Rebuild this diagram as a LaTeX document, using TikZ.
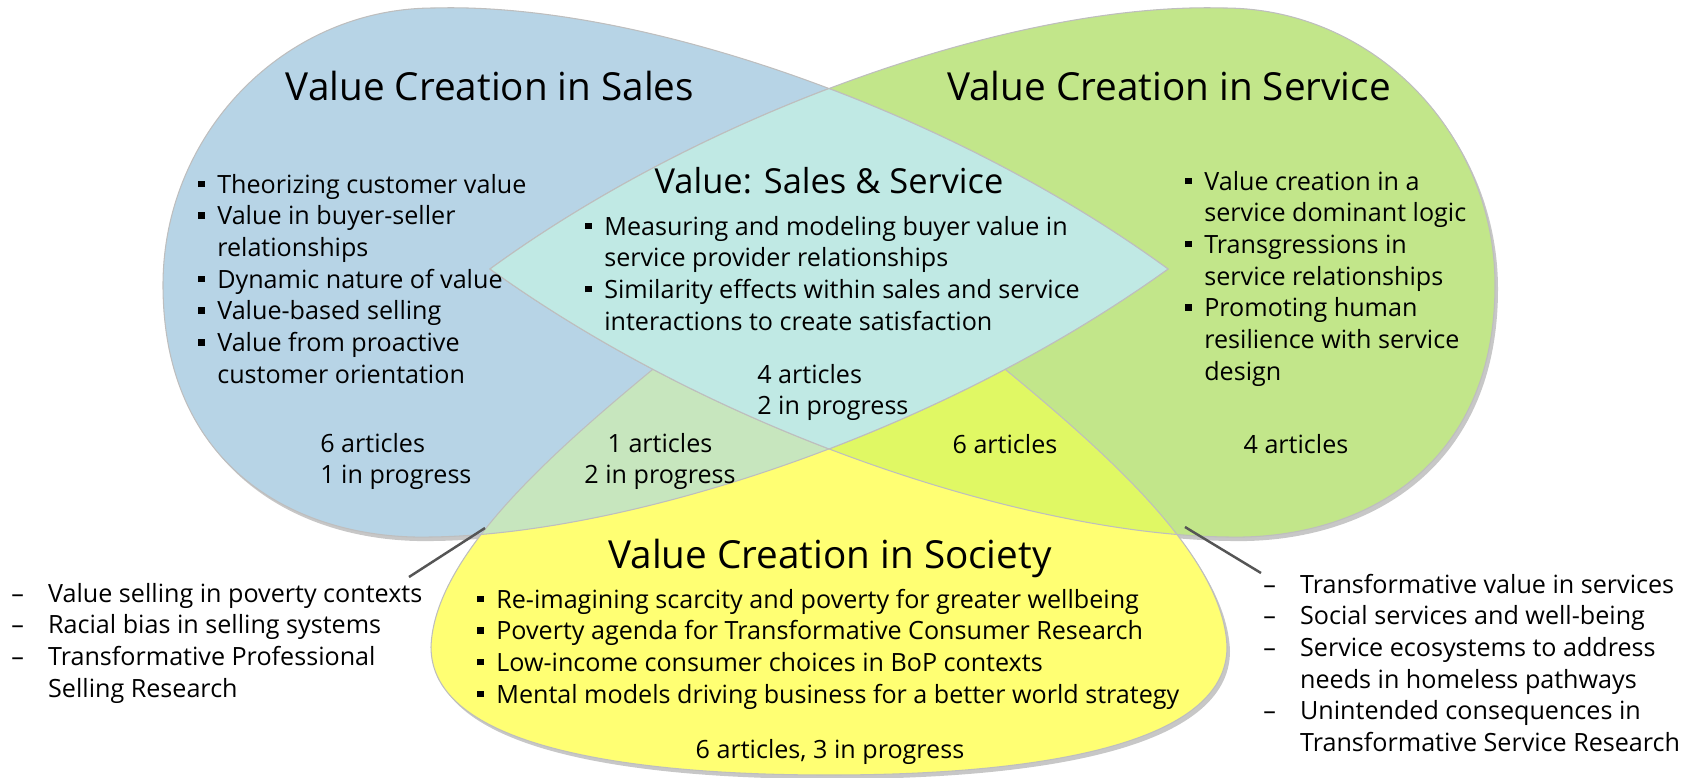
\documentclass[tikz,border=0pt]{standalone}
\usepackage{fontspec}
\setmainfont{Open Sans}
\definecolor{salesblue}{RGB}{183, 212, 230}
\definecolor{servicegreen}{RGB}{194, 230, 138}
\definecolor{societyyellow}{RGB}{255, 255, 115}
\definecolor{bothteal}{RGB}{192, 233, 228}
\definecolor{salessoc}{RGB}{199, 230, 190}
\definecolor{servsoc}{RGB}{224, 248, 100}
\definecolor{edgegray}{RGB}{190, 190, 190}
\definecolor{leadgray}{RGB}{85, 85, 85}
\usepackage{tikz}
\usetikzlibrary{positioning}

% petal outlines (pixel units, y downwards)
\newcommand{\salespetal}{(1168,269) .. controls (950,110) and (640,2) .. (434,8)
  .. controls (285,8) and (163,133) .. (163,285)
  .. controls (163,470) and (300,540) .. (430,537)
  .. controls (620,535) and (930,440) .. (1168,269) -- cycle}
\newcommand{\servicepetal}{(490,269) .. controls (708,110) and (1018,2) .. (1224,8)
  .. controls (1373,8) and (1495,133) .. (1495,285)
  .. controls (1495,470) and (1358,540) .. (1228,537)
  .. controls (1038,535) and (728,440) .. (490,269) -- cycle}
\newcommand{\societypetal}{(829,215) .. controls (740,320) and (436,500) .. (431,647)
  .. controls (431,745) and (620,775) .. (829,775)
  .. controls (1038,775) and (1227,745) .. (1227,647)
  .. controls (1222,500) and (918,320) .. (829,215) -- cycle}
\newcommand{\sqb}{\rule[3.4pt]{3.7pt}{3.7pt}}

\begin{document}
\begin{tikzpicture}[x=0.02cm, y=-0.02cm,
  heading/.style={font=\fontsize{22}{26}\selectfont, anchor=base, inner sep=0pt},
  body/.style={font=\fontsize{14.3}{18.04}\selectfont, inner sep=0pt},
  petaledge/.style={draw=edgegray, line width=0.6pt},
  leader/.style={draw=leadgray, line width=1.4pt}]
  \useasboundingbox (0,0) rectangle (1688,778);

  % Shadow
  \begin{scope}[shift={(3,4)}]
    \fill[black!22] \salespetal;
    \fill[black!22] \servicepetal;
    \fill[black!22] \societypetal;
  \end{scope}

  % Petals
  \fill[salesblue] \salespetal;
  \fill[servicegreen] \servicepetal;
  \fill[societyyellow] \societypetal;
  \begin{scope}
    \clip \salespetal;
    \fill[salessoc] \societypetal;
  \end{scope}
  \begin{scope}
    \clip \servicepetal;
    \fill[servsoc] \societypetal;
  \end{scope}
  \path[petaledge] \salespetal;
  \path[petaledge] \servicepetal;
  \path[petaledge] \societypetal;

  % Sales & Service overlap
  \begin{scope}
    \clip \salespetal;
    \fill[bothteal] \servicepetal;
    \path[petaledge] \servicepetal;
  \end{scope}
  \begin{scope}
    \clip \servicepetal;
    \path[petaledge] \salespetal;
  \end{scope}

  % Titles
  \node[heading] (salestitle) at (490, 100) {Value Creation in Sales};
  \node[heading] (servicetitle) at (1169, 100) {Value Creation in Service};
  \node[heading, font=\fontsize{19.6}{23}\selectfont] (bothtitle) at (829, 193) {Value: Sales \& Service};
  \node[heading] (societytitle) at (830, 568) {Value Creation in Society};

  % Sales
  \node[body, anchor=base west] (salesitems) at (198, 193) {%
    \begin{tabular}[t]{@{}l@{\hspace{7.1pt}}l@{}}
      \sqb & Theorizing customer value\\
      \sqb & Value in buyer-seller\\
           & relationships\\
      \sqb & Dynamic nature of value\\
      \sqb & Value-based selling\\
      \sqb & Value from proactive\\
           & customer orientation
    \end{tabular}};
  \node[body, anchor=base west] (salescount) at (320, 452) {%
    \begin{tabular}[t]{@{}l@{}}6 articles\\1 in progress\end{tabular}};

  % Service
  \node[body, anchor=base west] (serviceitems) at (1185, 190) {%
    \begin{tabular}[t]{@{}l@{\hspace{7.1pt}}l@{}}
      \sqb & Value creation in a\\
           & service dominant logic\\
      \sqb & Transgressions in\\
           & service relationships\\
      \sqb & Promoting human\\
           & resilience with service\\
           & design
    \end{tabular}};
  \node[body, anchor=base] (servicecount) at (1296, 453) {4 articles};

  % Sales & Service
  \node[body, anchor=base west] (bothitems) at (585, 235) {%
    \begin{tabular}[t]{@{}l@{\hspace{7.1pt}}l@{}}
      \sqb & Measuring and modeling buyer value in\\
           & service provider relationships\\
      \sqb & Similarity effects within sales and service\\
           & interactions to create satisfaction
    \end{tabular}};
  \node[body, anchor=base west] (bothcount) at (757, 383) {%
    \begin{tabular}[t]{@{}l@{}}4 articles\\2 in progress\end{tabular}};

  % Overlaps with Society
  \node[body, anchor=base] (salessoccount) at (660, 452) {%
    \begin{tabular}[t]{@{}c@{}}1 articles\\2 in progress\end{tabular}};
  \node[body, anchor=base] (servsoccount) at (1005, 453) {6 articles};

  % Society
  \node[body, anchor=base west] (societyitems) at (477, 608) {%
    \begin{tabular}[t]{@{}l@{\hspace{7.1pt}}l@{}}
      \sqb & Re-imagining scarcity and poverty for greater wellbeing\\
      \sqb & Poverty agenda for Transformative Consumer Research\\
      \sqb & Low-income consumer choices in BoP contexts\\
      \sqb & Mental models driving business for a better world strategy
    \end{tabular}};
  \node[body, anchor=base] (societycount) at (830, 758) {6 articles, 3 in progress};

  % Side notes
  \node[body, anchor=base west] (salesnotes) at (11, 602) {%
    \begin{tabular}[t]{@{}l@{\hspace{13.8pt}}l@{}}
      -- & Value selling in poverty contexts\\
      -- & Racial bias in selling systems\\
      -- & Transformative Professional\\
         & Selling Research
    \end{tabular}};
  \node[body, anchor=base west] (servicenotes) at (1263, 593) {%
    \begin{tabular}[t]{@{}l@{\hspace{13.8pt}}l@{}}
      -- & Transformative value in services\\
      -- & Social services and well-being\\
      -- & Service ecosystems to address\\
         & needs in homeless pathways\\
      -- & Unintended consequences in\\
         & Transformative Service Research
    \end{tabular}};

  \coordinate (salescorner) at (485, 528);
  \coordinate (salesend) at (409, 577);
  \coordinate (servicecorner) at (1185, 527);
  \coordinate (serviceend) at (1261, 573);
  \draw[leader] (salescorner) -- (salesend);
  \draw[leader] (servicecorner) -- (serviceend);
\end{tikzpicture}
\end{document}
